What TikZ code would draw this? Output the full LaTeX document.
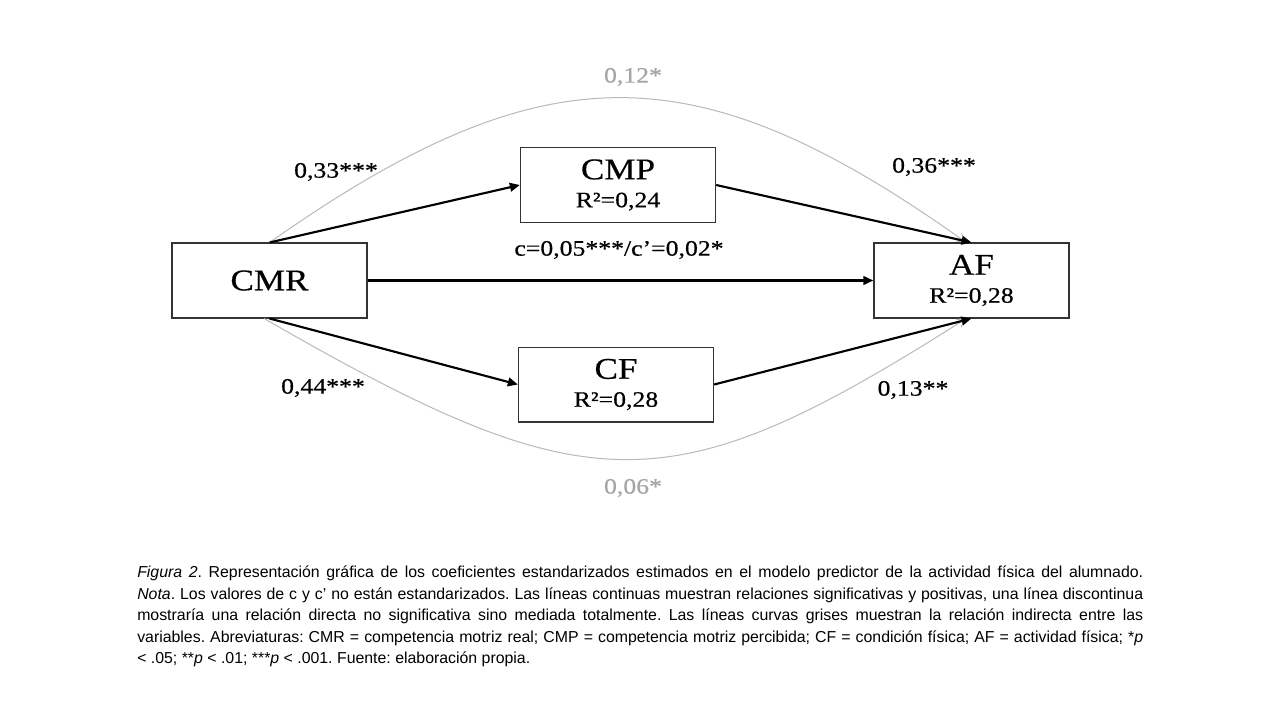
\documentclass[tikz,border=0pt]{standalone}
\usepackage{fontspec}
\setmainfont{Liberation Serif}
\newfontfamily\boxfont[FakeStretch=1.17,FakeBold=0.5]{Liberation Serif}
\newfontfamily\capfont{Liberation Sans}
\usetikzlibrary{arrows.meta}
\definecolor{curvegray}{RGB}{185,185,185}
\definecolor{labgray}{RGB}{165,165,165}
\tikzset{
  varbox/.style={draw=black!80, line width=1pt, minimum width=146.25pt, minimum height=56pt,
    inner sep=0pt, align=center, font=\boxfont\fontsize{16.5}{21}\selectfont},
  lbl/.style={inner sep=0pt, font=\boxfont\fontsize{16.5}{20}\selectfont},
  glbl/.style={lbl, text=labgray},
  patharrow/.style={line width=1.6pt, -{Triangle[length=7.5pt,width=6.5pt]}},
  indirect/.style={draw=curvegray, line width=0.75pt, -{Straight Barb[length=6pt,width=7pt]}}
}
\newcommand{\bigname}{\fontsize{22.5}{22.5}\selectfont}
\begin{document}
\begin{tikzpicture}[x=0.75pt,y=-0.75pt]
\useasboundingbox (0,0) rectangle (1280,720);
\fill[white] (0,0) rectangle (1280,720);
% boxes
\node[varbox] (cmr) at (269.5,280.5) {{\bigname CMR}};
\node[varbox] (cmp) at (618,185) {{\bigname CMP}\\R²=0,24};
\node[varbox] (cf) at (616,384.5) {{\bigname CF}\\R²=0,28};
\node[varbox] (af) at (971.5,280.5) {{\bigname AF}\\R²=0,28};
% indirect curves
\draw[indirect] (cmr.north) .. controls +(275,-193) and +(-271,-193) .. ([xshift=-4pt]af.north);
\draw[indirect] ([xshift=-4pt]cmr.south) .. controls +(326,188) and +(-296,188) .. ([xshift=-4pt]af.south);
% direct paths
\draw[patharrow] (cmr.north) -- (cmp.west);
\draw[patharrow] (cmp.east) -- (af.north);
\draw[patharrow] (cmr.east) -- (af.west);
\draw[patharrow] (cmr.south) -- (cf.west);
\draw[patharrow] (cf.east) -- (af.south);
% labels
\node[glbl] (l012) at (633,77) {0,12*};
\node[lbl] (l033) at (336,172) {0,33***};
\node[lbl] (l036) at (934,167) {0,36***};
\node[lbl] (lc) at (619,250) {c=0,05***/c’=0,02*};
\node[lbl] (l044) at (323,388) {0,44***};
\node[lbl] (l013) at (913,390) {0,13**};
\node[glbl] (l006) at (633,488) {0,06*};
% caption
\node[anchor=north west, inner sep=0pt, text width=754.5pt, align=justify,
  font=\capfont\fontsize{11.9}{16.1}\selectfont\frenchspacing] (caption) at (137,566)
{\textit{Figura 2}. Representación gráfica de los coeficientes estandarizados estimados en el modelo predictor de la actividad física del alumnado.\linebreak
\textit{Nota}. Los valores de c y c’ no están estandarizados. Las líneas continuas muestran relaciones significativas y positivas, una línea discontinua\linebreak
mostraría una relación directa no significativa sino mediada totalmente. Las líneas curvas grises muestran la relación indirecta entre las\linebreak
variables. Abreviaturas: CMR = competencia motriz real; CMP = competencia motriz percibida; CF = condición física; AF = actividad física; *\textit{p}\linebreak
< .05; **\textit{p} < .01; ***\textit{p} < .001. Fuente: elaboración propia.};
\end{tikzpicture}
\end{document}
